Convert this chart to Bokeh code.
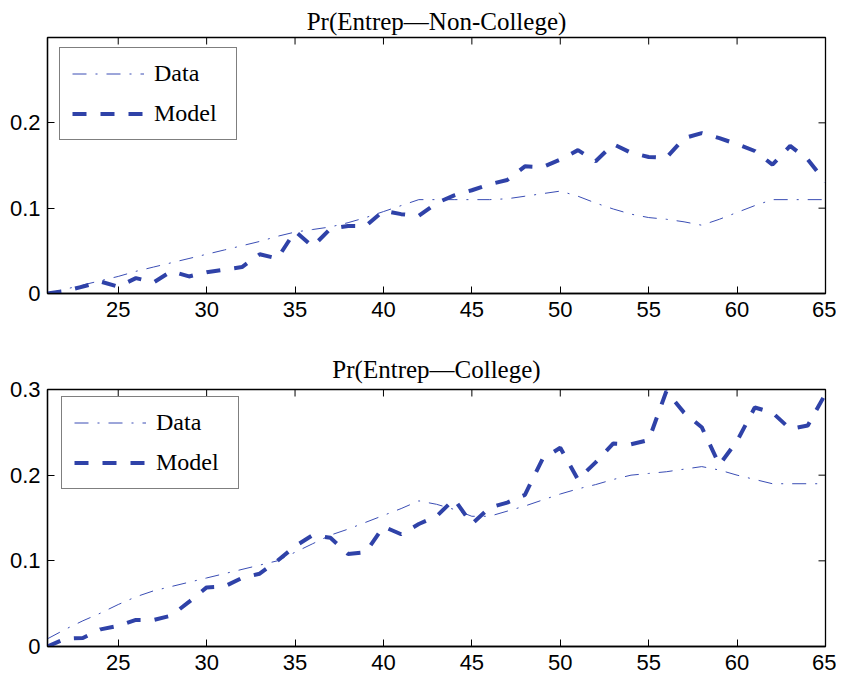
import math
from bokeh.plotting import figure
from bokeh.models import Range1d, FixedTicker, Legend, LegendItem, Title
from bokeh.layouts import column
from bokeh.embed import file_html
from bokeh.resources import INLINE

ages = list(range(21, 66))

data_noncollege = [0.000, 0.005, 0.010, 0.015, 0.020, 0.026, 0.031, 0.036, 0.041, 0.046,
                   0.051, 0.056, 0.061, 0.067, 0.072, 0.075, 0.078, 0.083, 0.089, 0.096,
                   0.103, 0.110, 0.110, 0.110, 0.110, 0.110, 0.111, 0.114, 0.117, 0.120,
                   0.114, 0.106, 0.099, 0.093, 0.089, 0.087, 0.084, 0.080, 0.087, 0.095,
                   0.103, 0.110, 0.110, 0.110, 0.110]
model_noncollege = [0.000, 0.003, 0.008, 0.014, 0.008, 0.018, 0.013, 0.026, 0.020, 0.025,
                    0.028, 0.031, 0.046, 0.041, 0.073, 0.055, 0.076, 0.079, 0.079, 0.097,
                    0.093, 0.091, 0.106, 0.115, 0.121, 0.128, 0.133, 0.149, 0.148, 0.157,
                    0.168, 0.155, 0.175, 0.165, 0.160, 0.159, 0.182, 0.188, 0.182, 0.175,
                    0.167, 0.151, 0.173, 0.157, 0.131]
data_college = [0.009, 0.020, 0.030, 0.039, 0.049, 0.058, 0.065, 0.070, 0.075, 0.080,
                0.085, 0.090, 0.095, 0.100, 0.110, 0.120, 0.130, 0.137, 0.145, 0.153,
                0.161, 0.170, 0.166, 0.160, 0.152, 0.152, 0.158, 0.164, 0.171, 0.178,
                0.184, 0.189, 0.195, 0.200, 0.202, 0.204, 0.207, 0.210, 0.206, 0.200,
                0.195, 0.190, 0.190, 0.190, 0.190]
model_college = [0.000, 0.009, 0.010, 0.020, 0.024, 0.031, 0.031, 0.036, 0.052, 0.069,
                 0.070, 0.080, 0.085, 0.100, 0.117, 0.130, 0.127, 0.108, 0.110, 0.140,
                 0.131, 0.143, 0.152, 0.172, 0.143, 0.162, 0.168, 0.177, 0.219, 0.232,
                 0.195, 0.215, 0.237, 0.236, 0.241, 0.298, 0.273, 0.256, 0.212, 0.240,
                 0.279, 0.273, 0.254, 0.258, 0.295]

x_ticks = [25, 30, 35, 40, 45, 50, 55, 60, 65]
y_ticks_top = [0, 0.1, 0.2]
y_ticks_bottom = [0, 0.1, 0.2, 0.3]
titles = ["Pr(Entrep\u2014Non-College)", "Pr(Entrep\u2014College)"]
series_labels = ["Data", "Model"]

X_MIN, X_MAX = 21, 65
Y_MIN, Y_MAX = 0, 0.3

DATA_COLOR = "#3a4db4"
MODEL_COLOR = "#2f42a8"
SERIF = "Liberation Serif"
SANS = "Liberation Sans"


def style_axis(ax):
    ax.axis_line_color = "black"
    ax.axis_line_width = 1.3
    ax.major_tick_line_color = "black"
    ax.major_tick_line_width = 1
    ax.major_tick_in = 7
    ax.major_tick_out = 0
    ax.minor_tick_line_color = None
    ax.major_label_text_font = SANS
    ax.major_label_text_font_size = "22px"
    ax.major_label_text_color = "black"


def make_panel(title, data, model, yticks, height, top, bottom, leg_loc, title_gap):
    p = figure(width=836, height=height, output_backend="svg",
               toolbar_location=None, x_range=Range1d(X_MIN, X_MAX),
               y_range=Range1d(Y_MIN, Y_MAX),
               min_border_left=47, min_border_right=11, min_border_top=top,
               min_border_bottom=bottom)
    p.title = None
    p.xgrid.visible = False
    p.ygrid.visible = False
    p.outline_line_color = "black"
    p.outline_line_width = 1.3
    p.background_fill_color = "white"
    p.border_fill_color = "white"

    p.xaxis.ticker = FixedTicker(ticks=x_ticks)
    p.yaxis.ticker = FixedTicker(ticks=yticks)
    p.yaxis.major_label_overrides = {0: "0"}
    p.xaxis.major_label_standoff = 8
    p.yaxis.major_label_standoff = 7
    style_axis(p.xaxis[0])
    style_axis(p.yaxis[0])

    # mirrored inward ticks on the top and right edges of the box
    p.ray(x=x_ticks, y=[Y_MAX] * len(x_ticks), length=7, length_units="screen",
          angle=-math.pi / 2, line_color="black", line_width=1)
    p.ray(x=[X_MAX] * len(yticks), y=yticks, length=7, length_units="screen",
          angle=math.pi, line_color="black", line_width=1)

    p.add_layout(Title(text=title, align="center", text_font=SERIF,
                       text_font_size="25px", text_font_style="normal",
                       text_color="black", standoff=title_gap), "above")

    r_data = p.line(ages, data, line_color=DATA_COLOR, line_width=1,
                    line_dash="14 9 2 9")
    r_model = p.line(ages, model, line_color=MODEL_COLOR, line_width=4,
                     line_dash="14 14")

    legend = Legend(items=[LegendItem(label=series_labels[0], renderers=[r_data]),
                           LegendItem(label=series_labels[1], renderers=[r_model])],
                    location=leg_loc, margin=0, orientation="vertical",
                    label_text_font=SERIF, label_text_font_size="24px",
                    label_text_color="black",
                    glyph_width=72, glyph_height=27, label_height=27, label_width=70,
                    label_standoff=10, spacing=13, padding=12,
                    border_line_color="black", border_line_width=1.5,
                    background_fill_color="white", background_fill_alpha=1.0)
    p.add_layout(legend)
    return p


p1 = make_panel(titles[0], data_noncollege, model_noncollege, y_ticks_top,
                341, 37, 48, (12, 153), 6)
p2 = make_panel(titles[1], data_college, model_college, y_ticks_bottom,
                337, 48, 32, (14, 157), 14)

layout = column(p1, p2, spacing=0)
open("out.html", "w").write(file_html(layout, INLINE))
